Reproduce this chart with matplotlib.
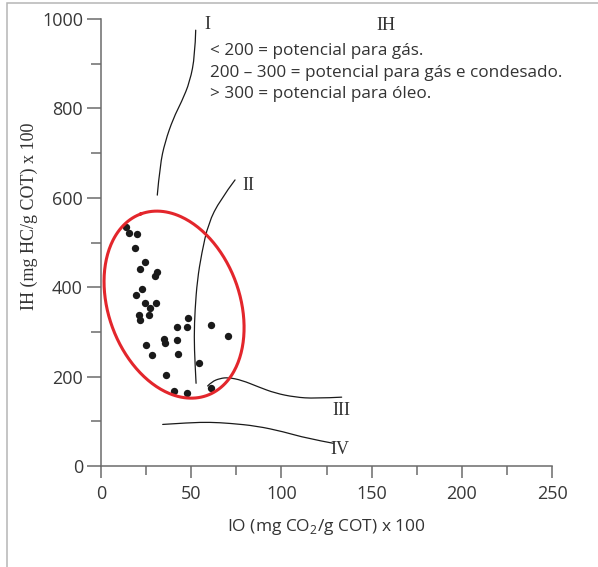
import numpy as np
import matplotlib
matplotlib.use("Agg")
import matplotlib.pyplot as plt
from matplotlib.patches import Rectangle, PathPatch
from matplotlib.path import Path

plt.rcParams['font.family'] = ['Open Sans', 'DejaVu Sans']
plt.rcParams['mathtext.fontset'] = 'custom'
plt.rcParams['mathtext.rm'] = 'Open Sans'

# amostras (IO, IH)
io_vals = [13.9, 15.7, 20.1, 18.8, 24.4, 21.8, 31.0, 30.1, 22.6, 19.6, 24.2,
           30.7, 27.3, 21.1, 21.5, 26.8, 48.4, 42.1, 47.8, 61.1, 70.6, 34.9,
           35.3, 42.1, 24.8, 28.4, 42.5, 54.2, 36.2, 40.6, 47.8, 61.1]
ih_vals = [534, 521, 519, 488, 456, 440, 433, 424, 395, 382, 364,
           364, 354, 337, 327, 337, 330, 311, 311, 316, 290, 283,
           275, 282, 271, 249, 250, 230, 204, 168, 164, 175]

# curvas de evolucao dos querogenios
curve_I_x = [52.5, 52.1, 49.3, 44.7, 40.1, 35.5, 32.7, 31.2]
curve_I_y = [975, 919, 860, 815, 778, 725, 673, 606]
curve_II_x = [74.3, 66.0, 59.5, 55.8, 53.4, 52.1, 51.6, 52.1, 52.7]
curve_II_y = [640, 595, 543, 476, 416, 349, 289, 230, 185]
curve_III_x = [59.1, 61.4, 66.0, 70.6, 78.0, 87.2, 96.5, 107.5, 118.6, 133.4]
curve_III_y = [179, 188.6, 196, 198, 192, 177, 163, 154, 151, 154]
curve_IV_x = [34.2, 49.3, 60.4, 71.5, 86.3, 101.1, 114.0, 128.8]
curve_IV_y = [93, 97, 98, 95.5, 89.5, 76.7, 62, 50.8]

curve_labels = ["I", "II", "III", "IV"]
label_pos = [(58.8, 987), (81.7, 628), (133.4, 125), (132.5, 37)]

legend_title = "IH"
legend_lines = ["< 200 = potencial para gás.",
                "200 – 300 = potencial para gás e condesado.",
                "> 300 = potencial para óleo."]

# elipse (centro em dados, eixos em pixels)
ell_center = (40.5, 361)
ell_a, ell_b, ell_tilt = 96.6, 65.7, 20.0


def smooth_path(xs, ys):
    # bezier quadratica passando pelos pontos medios
    pts = np.column_stack([xs, ys])
    verts = [pts[0]]
    codes = [Path.MOVETO]
    for i in range(1, len(pts) - 1):
        mid = (pts[i] + pts[i + 1]) / 2
        if i == len(pts) - 2:
            mid = pts[i + 1]
        verts += [pts[i], mid]
        codes += [Path.CURVE3, Path.CURVE3]
    return Path(verts, codes)


W, H = 598, 567
fig = plt.figure(figsize=(W / 100, H / 100), dpi=100)
ax = fig.add_axes([101 / W, 1 - 466 / H, 451 / W, 447 / H])
ax.set_xlim(0, 250)
ax.set_ylim(0, 1000)
ax.patch.set_alpha(0)

# moldura externa
fig.add_artist(Rectangle((7 / W, -0.2), 1.3, 0.2 + 1 - 3 / H, transform=fig.transFigure,
                         fill=False, edgecolor='#b5b5b5', linewidth=1.1))

spine_c = '#6b6b6b'
for s in ['top', 'right']:
    ax.spines[s].set_visible(False)
for s in ['left', 'bottom']:
    ax.spines[s].set_color(spine_c)
    ax.spines[s].set_linewidth(1.1)

ax.set_xticks(np.arange(0, 251, 50))
ax.set_xticks(np.arange(25, 250, 50), minor=True)
ax.set_yticks(np.arange(0, 1001, 200))
ax.set_yticks(np.arange(100, 1000, 200), minor=True)
ax.tick_params(axis='x', which='major', length=8.5, width=1.1, color=spine_c,
               labelsize=13, labelcolor='#383838', pad=5)
ax.tick_params(axis='x', which='minor', length=6.5, width=1.1, color=spine_c)
ax.tick_params(axis='y', which='major', length=10, width=1.1, color=spine_c,
               labelsize=13, labelcolor='#383838', pad=3)
ax.tick_params(axis='y', which='minor', length=7, width=1.1, color=spine_c)

ax.set_xlabel("IO (mg CO$_2$/g COT) x 100", fontsize=12.5, color='#333333')
ax.xaxis.set_label_coords(0.5, -0.115)
ax.set_ylabel("IH (mg HC/g COT) x 100", fontsize=13, color='#333333',
              family=['Liberation Serif', 'DejaVu Serif'])
ax.yaxis.set_label_coords(-0.14, 0.559)

# pontos
ax.scatter(io_vals, ih_vals, s=28, color='#1a1a1a', zorder=3, linewidths=0)

# curvas
for cx, cy in [(curve_I_x, curve_I_y), (curve_II_x, curve_II_y),
               (curve_III_x, curve_III_y), (curve_IV_x, curve_IV_y)]:
    ax.add_patch(PathPatch(smooth_path(cx, cy), fill=False, edgecolor='#1a1a1a',
                           lw=0.9, capstyle='round'))

for lab, (lx, ly) in zip(curve_labels, label_pos):
    ax.text(lx, ly, lab, fontsize=13, family=['Liberation Serif', 'DejaVu Serif'],
            color='#333333', ha='center', va='center')

# elipse vermelha
t = np.linspace(0, 2 * np.pi, 300)
th = np.deg2rad(ell_tilt)
dx = -ell_a * np.sin(th) * np.cos(t) + ell_b * np.cos(th) * np.sin(t)
dy = ell_a * np.cos(th) * np.cos(t) + ell_b * np.sin(th) * np.sin(t)
c_disp = ax.transData.transform(ell_center)
pts = ax.transData.inverted().transform(np.column_stack([c_disp[0] + dx, c_disp[1] + dy]))
ax.plot(pts[:, 0], pts[:, 1], color='#e3262c', lw=2.2, zorder=4)

# legenda de texto
ax.text(158, 986, legend_title, fontsize=13, family=['Liberation Serif', 'DejaVu Serif'],
        color='#333333', ha='center', va='center')
for i, line in enumerate(legend_lines):
    ax.text(60.2, 928 - i * 48, line, fontsize=12.3, color='#333333', ha='left', va='center')

fig.savefig("out.png", dpi=100)
